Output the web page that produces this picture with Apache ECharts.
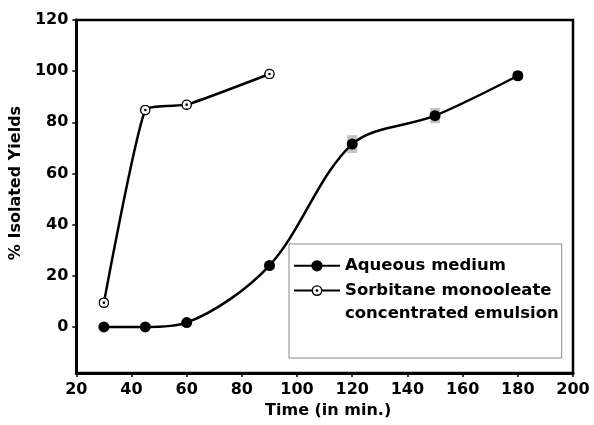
<!DOCTYPE html>
<html>
<head>
<meta charset="utf-8">
<script src="https://cdn.jsdelivr.net/npm/echarts@6/dist/echarts.min.js"></script>
<style>
  html, body { margin: 0; padding: 0; background: #fff; }
  #chart { width: 594px; height: 425px; }
</style>
</head>
<body>
<div id="chart"></div>
<script>
// data
var aqueousTime = [30, 45, 60, 90, 120, 150, 180];
var aqueousYield = [0, 0, 1.7, 24, 71.5, 82.6, 98.2];
var aqueousErr = [0, 0, 0, 1.5, 3.5, 3, 1.8];
var sorbTime = [30, 45, 60, 90];
var sorbYield = [9.5, 84.8, 86.9, 98.9];
var yTicks = [0, 20, 40, 60, 80, 100, 120];
var names = ['Aqueous medium', 'Sorbitane monooleate\nconcentrated emulsion'];

var font = 'DejaVu Sans';

// open circle with a dot in the middle
var dotSvg = '<svg xmlns="http://www.w3.org/2000/svg" width="22" height="22" viewBox="0 0 22 22">' +
    '<circle cx="11" cy="11" r="9.3" fill="#fff" stroke="#000" stroke-width="2.8"/>' +
    '<circle cx="11" cy="11" r="2.6" fill="#000"/></svg>';
var dotSymbol = 'image://data:image/svg+xml;utf8,' + encodeURIComponent(dotSvg);

function pairs(xs, ys) {
    return xs.map(function (x, i) { return [x, ys[i]]; });
}

var errData = [];
aqueousTime.forEach(function (t, i) {
    if (aqueousErr[i] > 0) errData.push([t, aqueousYield[i] - aqueousErr[i], aqueousYield[i] + aqueousErr[i]]);
});

var chart = echarts.init(document.getElementById('chart'));

var option = {
    animation: false,
    grid: {
        left: 72, right: 21, top: 20, bottom: 52,
        show: true, borderColor: '#000', borderWidth: 2.5, backgroundColor: '#fff'
    },
    legend: {
        orient: 'vertical',
        left: 289, top: 244,
        padding: [10, 3, 32, 4],
        itemGap: -22.4,
        itemWidth: 46, itemHeight: 14,
        selectedMode: false,
        backgroundColor: '#fff',
        borderColor: '#888', borderWidth: 1,
        textStyle: { fontFamily: font, fontWeight: 'bold', fontSize: 16.5, color: '#000', lineHeight: 23.6 },
        // empty first line keeps the icon level with the first text line
        formatter: function (name) {
            return name.indexOf('\n') >= 0 ? '\n' + name : name;
        },
        data: names
    },
    xAxis: {
        type: 'value',
        min: 20, max: 200, interval: 20,
        name: 'Time (in min.)',
        nameLocation: 'middle',
        nameGap: 30,
        nameTextStyle: { fontFamily: font, fontWeight: 'bold', fontSize: 16, color: '#000', padding: [0, 0, 0, 7] },
        axisLine: { onZero: false, lineStyle: { color: '#000', width: 3 } },
        axisTick: { length: 4, lineStyle: { color: '#000', width: 1.5 } },
        axisLabel: { margin: 9, fontFamily: font, fontWeight: 'bold', fontSize: 16, color: '#000' },
        splitLine: { show: false }
    },
    yAxis: {
        type: 'value',
        min: -18, max: 120,
        name: '% Isolated Yields',
        nameLocation: 'middle',
        nameGap: 47,
        nameTextStyle: { fontFamily: font, fontWeight: 'bold', fontSize: 16, color: '#000', padding: [0, 0, 0, 27] },
        axisLine: { lineStyle: { color: '#000', width: 3 } },
        axisTick: { length: 4, customValues: yTicks, lineStyle: { color: '#000', width: 1.5 } },
        axisLabel: { margin: 8, customValues: yTicks, fontFamily: font, fontWeight: 'bold', fontSize: 16, color: '#000' },
        splitLine: { show: false }
    },
    series: [
        {
            type: 'custom',
            z: 1,
            silent: true,
            data: errData,
            renderItem: function (params, api) {
                var lo = api.coord([api.value(0), api.value(1)]);
                var hi = api.coord([api.value(0), api.value(2)]);
                return {
                    type: 'rect',
                    shape: { x: lo[0] - 5, y: hi[1], width: 10, height: lo[1] - hi[1] },
                    style: { fill: '#c4c4c4' }
                };
            }
        },
        {
            name: names[0],
            type: 'line',
            z: 3,
            smooth: 0.32,
            data: pairs(aqueousTime, aqueousYield),
            symbol: 'circle',
            symbolSize: 11,
            itemStyle: { color: '#000' },
            lineStyle: { color: '#000', width: 2.5 }
        },
        {
            name: names[1],
            type: 'line',
            z: 4,
            smooth: 0.15,
            data: pairs(sorbTime, sorbYield),
            symbol: dotSymbol,
            symbolSize: 11,
            itemStyle: { color: '#000' },
            lineStyle: { color: '#000', width: 2.5 }
        }
    ]
};

chart.setOption(option);
</script>
</body>
</html>
